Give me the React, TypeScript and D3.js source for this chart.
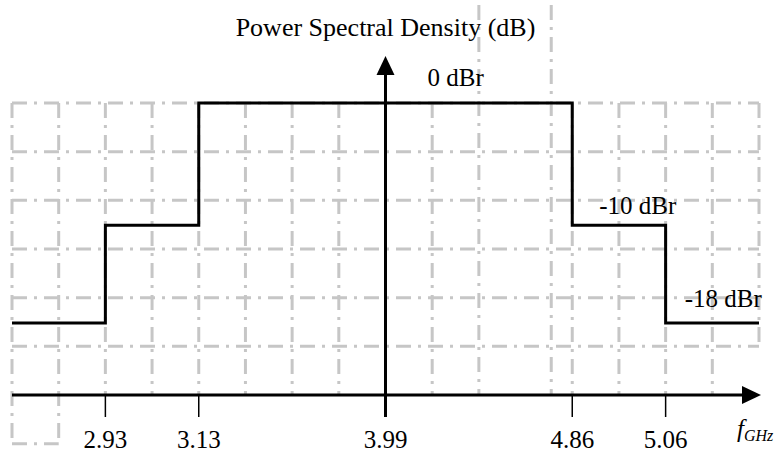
import React from 'react';
import * as d3 from 'd3';

// spectral mask: break frequencies (GHz) and the level of each band between them
const breakFreqs = [2.93, 3.13, 3.99, 4.86, 5.06];
const tickLabels = ['2.93', '3.13', '3.99', '4.86', '5.06'];
const bandLevels = [-18, -10, 0, -10, -18];
const bandEdges = [2.93, 3.13, 4.86, 5.06];
const levelLabels = ['0 dBr', '-10 dBr', '-18 dBr'];
const labelLevels = [0, -10, -18];

// background grid (column / row indices of the sketch grid)
const gridCols = [0, 1, 2, 3, 4, 5, 6, 7, 8, 9, 10, 11.55, 12, 13, 14, 15, 16];
const gridRows = [0, 1, 2, 3, 4, 5];

const W = 778;
const H = 454;
const FONT = '"Liberation Serif", "Times New Roman", "DejaVu Serif", serif';
const GRID = '#c6c6c6';
const DASH = '15,7,3,7';

const App: React.FC = () => {
  const colX = d3.scaleLinear().domain([0, 16]).range([12, 759]);
  const rowY = d3.scaleLinear().domain([0, 6]).range([103, 395]);
  // frequencies are drawn schematically: each break sits on a grid column
  const freqCol = d3.scaleLinear().domain(breakFreqs).range([2, 4, 8, 12, 14]);
  const x = (f: number) => colX(freqCol(f));
  const y = d3.scaleLinear().domain([0, -18]).range([103, 323]);

  const axisY = rowY(6);
  const axisX = x(3.99);
  const left = colX(0);
  const right = colX(16);

  // step path of the mask
  const xs = [left, ...bandEdges.map(x), right];
  const pts: [number, number][] = [];
  bandLevels.forEach((lv, i) => {
    pts.push([xs[i], y(lv)]);
    pts.push([xs[i + 1], y(lv)]);
  });
  const line = d3.line();

  const vertExtent = (c: number): [number, number] => {
    let top = rowY(0);
    let bottom = rowY(6);
    if (c === 10 || c === 11.55) top = 5;
    if (c === 0 || c === 1) bottom = rowY(7);
    if (c === 16) bottom = rowY(5);
    return [top, bottom];
  };

  const labelPos = [
    { x: axisX + 42, y: y(labelLevels[0]) - 17 },
    { x: x(4.86) + 27, y: y(labelLevels[1]) - 11 },
    { x: x(5.06) + 19, y: y(labelLevels[2]) - 16 },
  ];

  return (
    <svg
      width={W}
      height={H}
      style={{ position: 'absolute', left: 0, top: 0, background: '#fff', fontFamily: FONT }}
    >
      <g fill="none" stroke={GRID} strokeWidth={3} strokeDasharray={DASH}>
        {gridRows.map((r) => (
          <line key={'h' + r} x1={left} x2={right} y1={rowY(r)} y2={rowY(r)} />
        ))}
        <line x1={colX(0)} x2={colX(1)} y1={rowY(7)} y2={rowY(7)} />
        {gridCols.map((c) => {
          const [t, b] = vertExtent(c);
          return <line key={'v' + c} x1={colX(c)} x2={colX(c)} y1={t} y2={b} />;
        })}
      </g>

      {/* axes */}
      <line x1={left} x2={right - 16} y1={axisY} y2={axisY} stroke="#000" strokeWidth={3} />
      <path
        d={`M${right + 2},${axisY} L${right - 17},${axisY - 9} L${right - 17},${axisY + 9} Z`}
        fill="#000"
      />
      <line x1={axisX} x2={axisX} y1={axisY + 22} y2={74} stroke="#000" strokeWidth={3} />
      <path d={`M${axisX},56 L${axisX - 9},75 L${axisX + 9},75 Z`} fill="#000" />

      {breakFreqs.map((f, i) => (
        <g key={f}>
          <line
            x1={x(f)}
            x2={x(f)}
            y1={axisY}
            y2={axisY + 22}
            stroke="#000"
            strokeWidth={f === 3.99 ? 3 : 1.5}
          />
          <text x={x(f)} y={448} textAnchor="middle" fontSize={25}>
            {tickLabels[i]}
          </text>
        </g>
      ))}

      <path d={line(pts) || ''} fill="none" stroke="#000" strokeWidth={3} />

      <text x={axisX} y={36} textAnchor="middle" fontSize={26}>
        Power Spectral Density (dB)
      </text>
      {levelLabels.map((t, i) => (
        <text key={t} x={labelPos[i].x} y={labelPos[i].y} fontSize={25}>
          {t}
        </text>
      ))}
      <text x={737} y={437} fontSize={25} fontStyle="italic">
        f
        <tspan fontSize={16} dy={4}>
          GHz
        </tspan>
      </text>
    </svg>
  );
};

export default App;
